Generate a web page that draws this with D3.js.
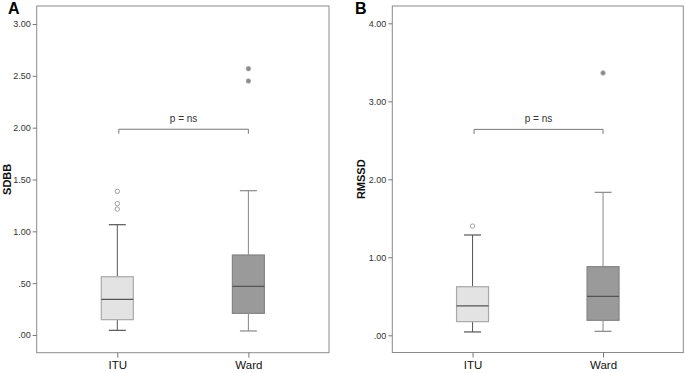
<!DOCTYPE html>
<html>
<head>
<meta charset="utf-8">
<script src="https://cdn.jsdelivr.net/npm/d3@7"></script>
<style>
  body { margin: 0; background: #fff; }
  svg { display: block; font-family: "Liberation Sans", Arial, sans-serif; }
  .yaxis .tick text { fill: #333; font-size: 9px; }
  .xaxis .tick text { fill: #111; font-size: 11.5px; }
  .tick line { stroke: #777; }
</style>
</head>
<body>
<div id="chart"></div>
<script>
var width = 685;
var height = 373;

var groups = ["ITU", "Ward"];

// low whisker, Q1, median, Q3, high whisker
var sdbbStats = [[0.045, 0.148, 0.344, 0.562, 1.064], [0.039, 0.209, 0.470, 0.772, 1.392]];
var sdbbOutliers = [[1.386, 1.267, 1.215], [2.569, 2.450]];
var sdbbTicks = [0, 0.5, 1, 1.5, 2, 2.5, 3];

var rmssdStats = [[0.043, 0.175, 0.376, 0.623, 1.286], [0.051, 0.192, 0.500, 0.880, 1.833]];
var rmssdOutliers = [[1.40], [3.363]];
var rmssdTicks = [0, 1, 2, 3, 4];

var pLabels = ["p = ns", "p = ns"];
var pLevels = [1.985, 2.64];

var svg = d3.select("#chart")
            .append("svg")
            .attr("width", width)
            .attr("height", height);

var fmt = function(d){
  return d3.format(".2f")(d).replace(/^0/, "");
};

function panel(opts){
  var g = svg.append("g");

  var xScale = d3.scalePoint()
                 .domain(groups)
                 .range([opts.left, opts.right])
                 .padding(0.615);

  var yScale = d3.scaleLinear()
                 .domain([0, opts.tickMax])
                 .range([opts.zeroY, opts.topTickY]);

  // frame
  g.append("rect")
   .attr("x", opts.left)
   .attr("y", opts.top)
   .attr("width", opts.right - opts.left)
   .attr("height", opts.bottom - opts.top)
   .attr("fill", "none")
   .attr("stroke", "#8a8a8a")
   .attr("stroke-width", 1);

  var yAxis = d3.axisLeft(yScale)
                .tickValues(opts.ticks)
                .tickFormat(fmt)
                .tickSize(4)
                .tickPadding(2);

  g.append("g")
   .attr("class", "yaxis")
   .attr("transform", "translate(" + opts.left + ",0)")
   .call(yAxis)
   .call(function(a){ a.select(".domain").remove(); });

  var xAxis = d3.axisBottom(xScale)
                .tickSize(5)
                .tickPadding(3);

  g.append("g")
   .attr("class", "xaxis")
   .attr("transform", "translate(0," + opts.bottom + ")")
   .call(xAxis)
   .call(function(a){ a.select(".domain").remove(); });

  // y label
  g.append("text")
   .attr("transform", "translate(" + opts.labelX + "," + ((opts.top + opts.bottom) / 2) + ") rotate(-90)")
   .attr("text-anchor", "middle")
   .attr("font-size", 11)
   .attr("font-weight", "bold")
   .attr("fill", "#111")
   .text(opts.yLabel);

  // panel letter
  g.append("text")
   .attr("x", opts.letterX)
   .attr("y", 14)
   .attr("font-size", 16)
   .attr("font-weight", "bold")
   .attr("fill", "#000")
   .text(opts.letter);

  var boxW = 32;
  var capW = 17;
  var styles = [
    { fill: "#e3e3e3", stroke: "#a8a8a8", whisker: "#555", median: "#555" },
    { fill: "#9a9a9a", stroke: "#858585", whisker: "#888", median: "#555" }
  ];

  opts.stats.forEach(function(s, i){
    var cx = xScale(groups[i]);
    var st = styles[i];
    var bg = g.append("g");

    // whisker stems
    bg.append("line")
      .attr("x1", cx).attr("x2", cx)
      .attr("y1", yScale(s[3])).attr("y2", yScale(s[4]))
      .attr("stroke", st.whisker);
    bg.append("line")
      .attr("x1", cx).attr("x2", cx)
      .attr("y1", yScale(s[0])).attr("y2", yScale(s[1]))
      .attr("stroke", st.whisker);
    // caps
    [s[0], s[4]].forEach(function(v){
      bg.append("line")
        .attr("x1", cx - capW / 2).attr("x2", cx + capW / 2)
        .attr("y1", yScale(v)).attr("y2", yScale(v))
        .attr("stroke", st.whisker)
        .attr("stroke-width", 1.2);
    });
    // box
    bg.append("rect")
      .attr("x", cx - boxW / 2)
      .attr("y", yScale(s[3]))
      .attr("width", boxW)
      .attr("height", yScale(s[1]) - yScale(s[3]))
      .attr("fill", st.fill)
      .attr("stroke", st.stroke)
      .attr("stroke-width", 1.2);
    // median
    bg.append("line")
      .attr("x1", cx - boxW / 2).attr("x2", cx + boxW / 2)
      .attr("y1", yScale(s[2])).attr("y2", yScale(s[2]))
      .attr("stroke", st.median)
      .attr("stroke-width", 1.2);

    // outliers
    bg.selectAll("circle")
      .data(opts.outliers[i])
      .enter()
      .append("circle")
      .attr("cx", cx)
      .attr("cy", function(d){ return yScale(d); })
      .attr("r", 2.2)
      .attr("fill", i === 0 ? "#fff" : "#8a8a8a")
      .attr("stroke", i === 0 ? "#999" : "#a0a0a0")
      .attr("stroke-width", 0.9);
  });

  // significance bracket
  var x1 = xScale(groups[0]) + 1.5, x2 = xScale(groups[1]);
  var by = yScale(opts.pLevel);
  g.append("path")
   .attr("d", "M" + x1 + "," + (by + 4.5) + "V" + by + "H" + x2 + "V" + (by + 4.5))
   .attr("fill", "none")
   .attr("stroke", "#777");
  g.append("text")
   .attr("x", (x1 + x2) / 2)
   .attr("y", by - 7)
   .attr("text-anchor", "middle")
   .attr("font-size", 10)
   .attr("fill", "#333")
   .text(opts.pLabel);
}

panel({
  left: 36.7, right: 329, top: 6, bottom: 352.7,
  zeroY: 335, topTickY: 24, tickMax: 3, ticks: sdbbTicks,
  stats: sdbbStats, outliers: sdbbOutliers,
  yLabel: "SDBB", labelX: 10.5, letter: "A", letterX: 8,
  pLabel: pLabels[0], pLevel: pLevels[0]
});

panel({
  left: 392.3, right: 683.3, top: 6, bottom: 352.5,
  zeroY: 335.3, topTickY: 23.3, tickMax: 4, ticks: rmssdTicks,
  stats: rmssdStats, outliers: rmssdOutliers,
  yLabel: "RMSSD", labelX: 364.5, letter: "B", letterX: 355,
  pLabel: pLabels[1], pLevel: pLevels[1]
});
</script>
</body>
</html>
